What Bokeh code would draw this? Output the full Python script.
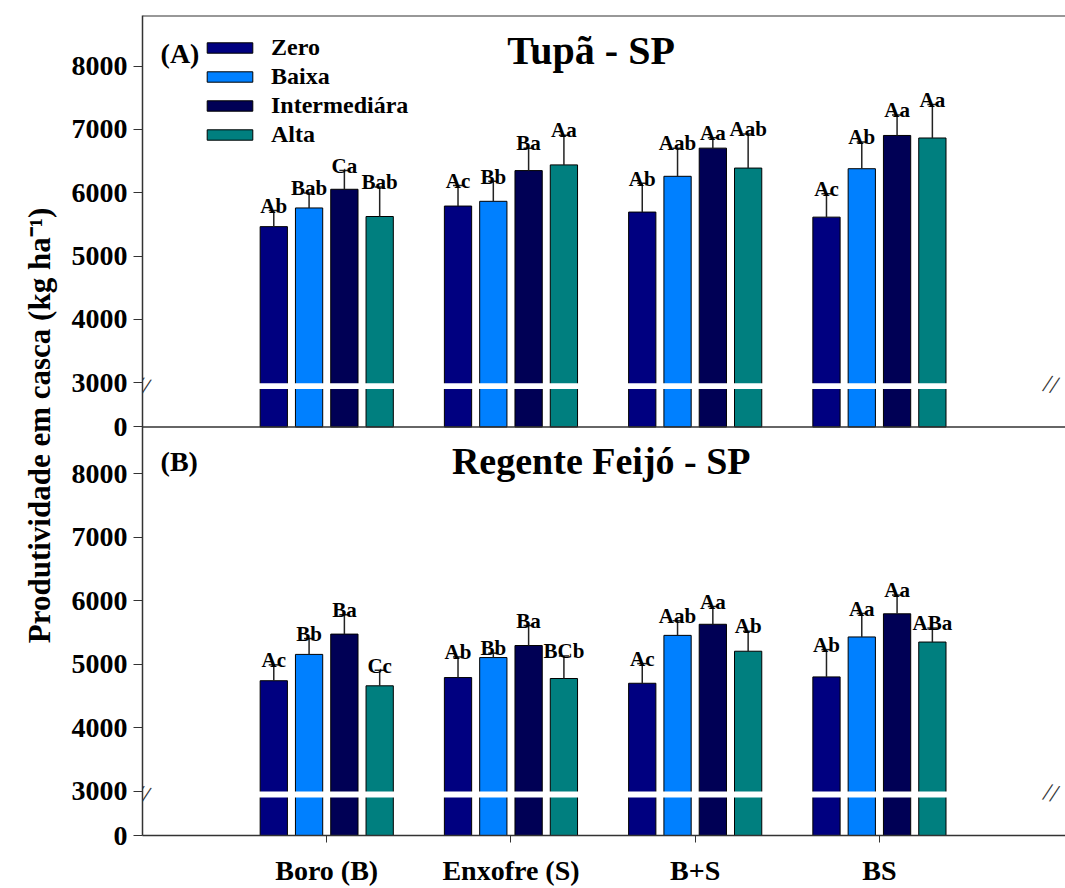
from bokeh.plotting import figure
from bokeh.models import Range1d, FixedTicker, Span, Label, Legend, LegendItem
from bokeh.core.properties import value
from bokeh.embed import file_html
from bokeh.resources import INLINE

# ---------------- data ----------------
categories = ["Boro (B)", "Enxofre (S)", "B+S", "BS"]
series = ["Zero", "Baixa", "Intermediára", "Alta"]
colors = ["#000080", "#0080ff", "#000055", "#007f7f"]

# Panel A: Tupã - SP
tupa_zero = [5465, 5790, 5695, 5615]
tupa_zero_err = [5720, 6115, 6150, 5985]
tupa_baixa = [5760, 5865, 6260, 6380]
tupa_baixa_err = [5995, 6180, 6705, 6800]
tupa_inter = [6055, 6350, 6705, 6905]
tupa_inter_err = [6350, 6705, 6870, 7230]
tupa_alta = [5625, 6440, 6390, 6865]
tupa_alta_err = [6090, 6910, 6930, 7395]
tupa_letters = [["Ab", "Ac", "Ab", "Ac"],
                ["Bab", "Bb", "Aab", "Ab"],
                ["Ca", "Ba", "Aa", "Aa"],
                ["Bab", "Aa", "Aab", "Aa"]]

# Panel B: Regente Feijó - SP
rf_zero = [4740, 4790, 4700, 4800]
rf_zero_err = [4990, 5115, 5010, 5230]
rf_baixa = [5155, 5105, 5455, 5430]
rf_baixa_err = [5405, 5175, 5685, 5800]
rf_inter = [5475, 5295, 5630, 5795]
rf_inter_err = [5780, 5610, 5910, 6090]
rf_alta = [4660, 4775, 5205, 5350]
rf_alta_err = [4905, 5130, 5520, 5570]
rf_letters = [["Ac", "Ab", "Ac", "Ab"],
              ["Bb", "Bb", "Aab", "Aa"],
              ["Ba", "Ba", "Aa", "Aa"],
              ["Cc", "BCb", "Ab", "ABa"]]

y_tick_values = [0, 3000, 4000, 5000, 6000, 7000, 8000]

# ---------------- broken-axis transform ----------------
BREAK = 3000
BREAK_H = 700


def yt(v):
    return v - BREAK + BREAK_H if v >= BREAK else v * BREAK_H / BREAK


W, H = 1065, 888
B_TOP, B_BOT, B_LEFT, B_RIGHT = 15, 52, 142, 0
FRAME_H = H - B_TOP - B_BOT
TOP_H = 412
BOT_H = FRAME_H - TOP_H
RT = 6500
RB = 6440
y_end = FRAME_H * RB / BOT_H
top_start = -BOT_H * RT / TOP_H
X_END = 5.01

FONT = value("Liberation Serif")
FONT_NAME = "Liberation Serif"

p = figure(width=W, height=H, x_range=Range1d(0, X_END), y_range=Range1d(0, y_end),
           output_backend="svg", toolbar_location=None,
           min_border_left=B_LEFT, min_border_right=B_RIGHT,
           min_border_top=B_TOP, min_border_bottom=B_BOT)
p.extra_y_ranges = {"top": Range1d(top_start, RT)}
p.outline_line_color = None
p.xgrid.visible = False
p.ygrid.visible = False
p.background_fill_color = "white"

cat_x = [1, 2, 3, 4]
PITCH = 0.1916
BAR_W = 0.148
CAP_W = 0.055

panels = [
    ("top", [tupa_zero, tupa_baixa, tupa_inter, tupa_alta],
     [tupa_zero_err, tupa_baixa_err, tupa_inter_err, tupa_alta_err], tupa_letters),
    ("default", [rf_zero, rf_baixa, rf_inter, rf_alta],
     [rf_zero_err, rf_baixa_err, rf_inter_err, rf_alta_err], rf_letters),
]

legend_items = []
for name, vals, errs, letters in panels:
    for i, s in enumerate(series):
        off = (i - 1.5) * PITCH
        xs = [c + off for c in cat_x]
        tops = [yt(v) for v in vals[i]]
        etops = [yt(v) for v in errs[i]]
        r = p.vbar(x=xs, top=tops, bottom=0, width=BAR_W, fill_color=colors[i],
                   line_color="black", line_width=1, y_range_name=name)
        p.segment(x0=xs, y0=tops, x1=xs, y1=etops, line_color="#222222",
                  line_width=1.5, y_range_name=name)
        p.segment(x0=[x - CAP_W / 2 for x in xs], y0=etops,
                  x1=[x + CAP_W / 2 for x in xs], y1=etops,
                  line_color="#222222", line_width=1.5, y_range_name=name)
        p.text(x=xs, y=[e + 75 for e in etops], text=letters[i], text_font=FONT,
               text_font_style="bold", text_font_size="21px", text_align="center",
               text_baseline="alphabetic", text_color="black", y_range_name=name)
        if name == "top":
            legend_items.append(LegendItem(label=s, renderers=[r]))
    # white break band across each group
    half = 1.5 * PITCH + BAR_W / 2 + 0.01
    p.quad(left=[c - half for c in cat_x], right=[c + half for c in cat_x],
           bottom=yt(BREAK) - 100, top=yt(BREAK) - 8, fill_color="white",
           line_color=None, y_range_name=name)

# ---------------- axes ----------------
p.xaxis.ticker = FixedTicker(ticks=cat_x)
p.xaxis.major_label_overrides = {c: lab for c, lab in zip(cat_x, categories)}
p.xaxis.major_label_text_font = FONT_NAME
p.xaxis.major_label_text_font_style = "bold"
p.xaxis.major_label_text_font_size = "28px"
p.xaxis.major_label_text_color = "black"
p.xaxis.major_tick_out = 7
p.xaxis.major_tick_in = 0
p.xaxis.minor_tick_line_color = None
p.xaxis.axis_line_width = 1.5
p.xaxis.axis_line_color = "#333333"
p.xaxis.major_tick_line_color = "#333333"
p.xaxis.major_label_standoff = 12

tick_pos = []
overrides = {}
for v in y_tick_values:
    pos = round(yt(v), 3)
    tick_pos.append(pos)
    overrides[pos] = str(v)
for v in y_tick_values:
    px = BOT_H + yt(v) / RT * TOP_H
    pos = round(px * RB / BOT_H, 3)
    tick_pos.append(pos)
    overrides[pos] = str(v)

p.yaxis.ticker = FixedTicker(ticks=tick_pos)
p.yaxis.major_label_overrides = overrides
p.yaxis.major_label_text_font = FONT_NAME
p.yaxis.major_label_text_font_style = "bold"
p.yaxis.major_label_text_font_size = "28px"
p.yaxis.major_label_text_color = "black"
p.yaxis.major_tick_out = 9
p.yaxis.major_tick_in = 0
p.yaxis.minor_tick_line_color = None
p.yaxis.major_label_standoff = 6
p.yaxis.axis_line_width = 1.5
p.yaxis.axis_line_color = "#333333"
p.yaxis.major_tick_line_color = "#333333"
p.yaxis.axis_label = "Produtividade em casca (kg ha⁻¹)"
p.yaxis.axis_label_text_font = FONT_NAME
p.yaxis.axis_label_text_font_style = "bold"
p.yaxis.axis_label_text_font_size = "31px"
p.yaxis.axis_label_text_color = "black"
p.yaxis.axis_label_standoff = 12

# frame lines
p.add_layout(Span(location=RT, dimension="width", y_range_name="top",
                  line_color="#333333", line_width=2))
p.add_layout(Span(location=0, dimension="width", y_range_name="top",
                  line_color="#333333", line_width=1.5))

# break marks
for name in ["top", "default"]:
    for xb, al in [(0, "center"), (X_END - 0.04, "right")]:
        p.add_layout(Label(x=xb, y=yt(BREAK) - 55, y_range_name=name, text="//",
                           text_font=FONT_NAME, text_font_size="26px", text_align=al,
                           text_baseline="middle", angle=-0.25, text_color="#333333"))

# panel titles
p.add_layout(Label(x=0.098, y=5901, y_range_name="top", text="(A)", text_font=FONT_NAME,
                   text_font_style="bold", text_font_size="28px", text_align="left",
                   text_baseline="alphabetic", text_color="black"))
p.add_layout(Label(x=2.435, y=5948, y_range_name="top", text="Tupã - SP", text_font=FONT_NAME,
                   text_font_style="bold", text_font_size="40px", text_align="center",
                   text_baseline="alphabetic", text_color="black"))
p.add_layout(Label(x=0.098, y=5890, text="(B)", text_font=FONT_NAME,
                   text_font_style="bold", text_font_size="28px", text_align="left",
                   text_baseline="alphabetic", text_color="black"))
p.add_layout(Label(x=2.49, y=5906, text="Regente Feijó - SP", text_font=FONT_NAME,
                   text_font_style="bold", text_font_size="38px", text_align="center",
                   text_baseline="alphabetic", text_color="black"))

legend = Legend(items=legend_items, location=(59, FRAME_H - 134),
                orientation="vertical",
                glyph_width=57, glyph_height=13, label_height=13, spacing=2,
                label_standoff=13, padding=0, margin=0, border_line_color=None,
                background_fill_alpha=0,
                label_text_font=FONT_NAME, label_text_font_style="bold",
                label_text_font_size="24px", label_text_color="black")
p.add_layout(legend, "center")

open("out.html", "w").write(file_html(p, INLINE))
